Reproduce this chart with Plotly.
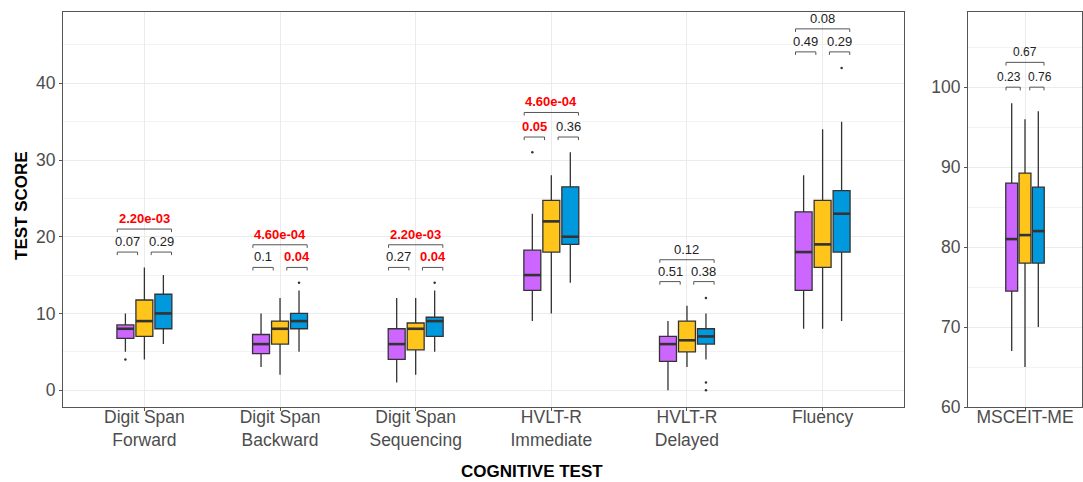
import plotly.graph_objects as go

# ---------------- data ----------------
categories = ["Digit Span<br>Forward", "Digit Span<br>Backward", "Digit Span<br>Sequencing",
              "HVLT-R<br>Immediate", "HVLT-R<br>Delayed", "Fluency"]
right_category = ["MSCEIT-ME"]
group_names = ["Group 1", "Group 2", "Group 3"]
group_colors = ["#CC66FF", "#FFC51A", "#0099DD"]

# left panel box statistics (per category)
g1_lower = [5, 3, 1, 9, 0, 8]
g1_q1 = [6.75, 4.75, 4, 13, 3.75, 13]
g1_median = [8, 6, 6, 15, 6, 18]
g1_q3 = [8.5, 7.25, 8, 18.25, 7, 23.25]
g1_upper = [10, 10, 12, 23, 9, 28]

g2_lower = [4, 2, 2, 10, 3, 8]
g2_q1 = [7, 6, 5.25, 18, 5, 16]
g2_median = [9, 8, 8, 22, 6.5, 19]
g2_q3 = [11.75, 9, 8.75, 24.75, 9, 24.75]
g2_upper = [16, 12, 12, 28, 11, 34]

g3_lower = [6, 5, 5, 14, 4, 9]
g3_q1 = [8, 8, 7, 19, 6, 18]
g3_median = [10, 9, 9, 20, 7, 23]
g3_q3 = [12.5, 10, 9.5, 26.5, 8, 26]
g3_upper = [15, 13, 13, 31, 10, 35]

# outliers: category number (1-based) and value
g1_out_cat = [1, 4]
g1_out_val = [4, 31]
g2_out_cat = []
g2_out_val = []
g3_out_cat = [2, 3, 5, 5, 5, 6]
g3_out_val = [14, 14, 12, 1, 0, 42]

# right panel (MSCEIT-ME), one value per group
m_lower = [67, 65, 70]
m_q1 = [74.5, 78, 78]
m_median = [81, 81.5, 82]
m_q3 = [88, 89.25, 87.5]
m_upper = [98, 96, 97]

# p-values
p_overall = ["2.20e-03", "4.60e-04", "2.20e-03", "4.60e-04", "0.12", "0.08"]
p_12 = ["0.07", "0.1", "0.27", "0.05", "0.51", "0.49"]
p_23 = ["0.29", "0.04", "0.04", "0.36", "0.38", "0.29"]
bracket_small_y = [18, 16, 16, 33, 14.15, 44.1]
bracket_big_y = [21, 18.95, 18.95, 36.2, 17, 47.1]

m_p_overall = ["0.67"]
m_p_12 = ["0.23"]
m_p_23 = ["0.76"]
m_bracket_small_y = [100]
m_bracket_big_y = [103.1]

# ---------------- styling ----------------
W, H = 1083, 482
FONT = "Liberation Sans, Arial, sans-serif"
OFFSETS = [-0.14, 0.0, 0.14]
BOX_W = 0.125
EDGE = "#333333"
GRID = "#EBEBEB"
BORDER = "#555555"
TICKCOL = "#4D4D4D"

fig = go.Figure()

left_stats = [
    (g1_lower, g1_q1, g1_median, g1_q3, g1_upper, g1_out_cat, g1_out_val),
    (g2_lower, g2_q1, g2_median, g2_q3, g2_upper, g2_out_cat, g2_out_val),
    (g3_lower, g3_q1, g3_median, g3_q3, g3_upper, g3_out_cat, g3_out_val),
]


def add_group(xs, lo, q1, med, q3, hi, color, name, xa, ya):
    fig.add_trace(go.Box(
        x=xs, q1=q1, median=med, q3=q3, lowerfence=lo, upperfence=hi,
        fillcolor=color, line=dict(color=EDGE, width=1.3), width=BOX_W,
        whiskerwidth=0, boxpoints=False, name=name, showlegend=False,
        xaxis=xa, yaxis=ya, hoverinfo="skip"))
    mx, my = [], []
    for x, m in zip(xs, med):
        mx += [x - BOX_W / 2, x + BOX_W / 2, None]
        my += [m, m, None]
    fig.add_trace(go.Scatter(x=mx, y=my, mode="lines",
                             line=dict(color=EDGE, width=2.6),
                             showlegend=False, hoverinfo="skip",
                             xaxis=xa, yaxis=ya))


for g, (lo, q1, med, q3, hi, oc, ov) in enumerate(left_stats):
    xs = [i + 1 + OFFSETS[g] for i in range(len(categories))]
    add_group(xs, lo, q1, med, q3, hi, group_colors[g], group_names[g], "x", "y")
    if oc:
        fig.add_trace(go.Scatter(x=[c + OFFSETS[g] for c in oc], y=ov, mode="markers",
                                 marker=dict(color=EDGE, size=2.5),
                                 showlegend=False, hoverinfo="skip"))

for g in range(3):
    add_group([1 + OFFSETS[g]], [m_lower[g]], [m_q1[g]], [m_median[g]],
              [m_q3[g]], [m_upper[g]], group_colors[g], group_names[g], "x2", "y2")

annotations = []


def add_brackets(centers, small_y, big_y, pov, p12, p23, xa, ya, tick, fsize, shifts):
    bx, by = [], []
    for c, ys, yb, a, b, d in zip(centers, small_y, big_y, pov, p12, p23):
        spans = [(c - 0.2, c + 0.2, yb, a), (c - 0.2, c - 0.05, ys, b), (c + 0.05, c + 0.2, ys, d)]
        for (x0, x1, y, lab), sh in zip(spans, shifts):
            bx += [x0, x0, x1, x1, None]
            by += [y - tick, y, y, y - tick, None]
            sig = float(lab) <= 0.05
            annotations.append(dict(
                x=(x0 + x1) / 2, y=y, xref=xa, yref=ya, xanchor="center",
                yanchor="bottom", yshift=1, xshift=sh,
                text=("<b>%s</b>" % lab) if sig else lab, showarrow=False,
                font=dict(family=FONT, size=fsize, color="#FF0000" if sig else "#222222")))
    fig.add_trace(go.Scatter(x=bx, y=by, mode="lines", line=dict(color="#555555", width=1),
                             showlegend=False, hoverinfo="skip", xaxis=xa, yaxis=ya))


add_brackets([i + 1 for i in range(len(categories))], bracket_small_y, bracket_big_y,
             p_overall, p_12, p_23, "x", "y", 0.4, 13, [0, 0, 0])
add_brackets([1], m_bracket_small_y, m_bracket_big_y, m_p_overall, m_p_12, m_p_23,
             "x2", "y2", 0.4, 12, [0, -4, 3])

# axis titles
annotations.append(dict(x=21 / W, y=1 - 206 / H, xref="paper", yref="paper",
                        xanchor="center", yanchor="middle",
                        text="<b>TEST SCORE</b>", textangle=-90, showarrow=False,
                        font=dict(family=FONT, size=17, color="black")))
annotations.append(dict(x=532 / W, y=1 - 471.5 / H, xref="paper", yref="paper",
                        xanchor="center", yanchor="middle",
                        text="<b>COGNITIVE TEST</b>", showarrow=False,
                        font=dict(family=FONT, size=17, color="black")))

ydom = [1 - 407 / H, 1 - 12 / H]
axis_common = dict(showline=True, mirror=True, linecolor=BORDER, linewidth=1,
                   ticks="outside", ticklen=3, tickcolor=BORDER, zeroline=False,
                   showgrid=True, gridcolor=GRID, gridwidth=1, automargin=False,
                   tickfont=dict(family=FONT, size=17.5, color=TICKCOL))

fig.update_layout(
    width=W, height=H, autosize=False,
    margin=dict(l=0, r=0, t=0, b=0, autoexpand=False),
    plot_bgcolor="white", paper_bgcolor="white",
    showlegend=False, boxmode="overlay",
    font=dict(family=FONT),
    xaxis=dict(domain=[63 / W, 904 / W], range=[0.4, 6.6],
               tickmode="array", tickvals=list(range(1, len(categories) + 1)),
               ticktext=categories, anchor="y", ticklabelstandoff=-9, **axis_common),
    yaxis=dict(domain=ydom, range=[-2.2, 49.3], tick0=0, dtick=10, anchor="x",
               minor=dict(dtick=5, tick0=0, showgrid=True, gridcolor="#F3F3F3", gridwidth=0.8, ticks=""),
               **axis_common),
    xaxis2=dict(domain=[968 / W, 1082 / W], range=[0.4, 1.6],
                tickmode="array", tickvals=[1], ticktext=right_category, anchor="y2",
                ticklabelstandoff=-9, **axis_common),
    yaxis2=dict(domain=ydom, range=[60, 109.4], tick0=0, dtick=10, anchor="x2",
                minor=dict(dtick=5, tick0=0, showgrid=True, gridcolor="#F3F3F3", gridwidth=0.8, ticks=""),
                **axis_common),
    annotations=annotations,
)

fig.write_html("out.html",
               config={"displayModeBar": False, "responsive": False},
               post_script="document.body.style.margin='0';"
                           "document.documentElement.style.overflow='hidden';"
                           "document.body.style.overflow='hidden';")
